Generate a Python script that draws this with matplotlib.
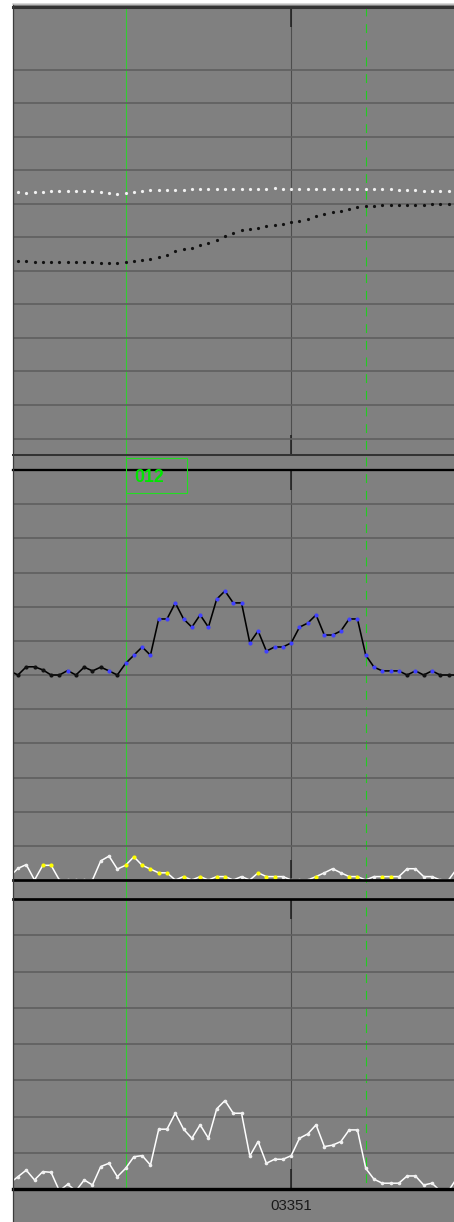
import numpy as np
import matplotlib
matplotlib.use("Agg")
import matplotlib.pyplot as plt
from matplotlib.patches import Rectangle
from matplotlib.lines import Line2D
from matplotlib import transforms

# ---------------------------------------------------------------- data
# upper panel: two dotted traces, samples 0..52
upper_light = [73.6, 73.3, 73.4, 73.6, 73.8, 73.8, 73.8, 73.8, 73.8, 73.8,
               73.6, 73.2, 73.0, 73.3, 73.6, 73.9, 74.0, 74.1, 74.2, 74.2,
               74.2, 74.3, 74.3, 74.3, 74.3, 74.3, 74.3, 74.3, 74.3, 74.4,
               74.5, 74.6, 74.5, 74.5, 74.5, 74.5, 74.5, 74.4, 74.3, 74.3,
               74.3, 74.3, 74.3, 74.3, 74.3, 74.3, 74.2, 74.1, 74.0, 73.9,
               73.8, 73.8, 73.9]
upper_dark = [52.9, 52.8, 52.7, 52.7, 52.7, 52.7, 52.7, 52.6, 52.6, 52.5,
              52.4, 52.4, 52.4, 52.7, 53.0, 53.3, 53.5, 54.1, 54.8, 55.8,
              56.4, 56.9, 57.7, 58.4, 59.2, 60.3, 61.3, 62.1, 62.5, 62.9,
              63.3, 63.6, 64.0, 64.5, 65.0, 65.6, 66.3, 66.9, 67.4, 67.8,
              68.5, 69.1, 69.4, 69.4, 69.5, 69.6, 69.6, 69.6, 69.7, 69.7,
              69.8, 69.8, 69.8]

# middle / lower panels: samples -1..53
main_trace = [61.2,
              60.0, 62.4, 62.4, 61.5, 60.0, 60.0, 61.3, 60.0, 62.3, 61.2,
              62.3, 61.2, 60.0, 63.4, 65.8, 68.2, 65.8, 76.4, 76.4, 81.1,
              76.4, 74.0, 77.6, 74.0, 82.2, 84.6, 81.1, 81.1, 69.4, 72.9,
              67.0, 68.2, 68.2, 69.4, 74.0, 75.2, 77.6, 71.7, 71.7, 72.9,
              76.4, 76.4, 65.8, 62.3, 61.2, 61.2, 61.2, 60.0, 61.2, 60.0,
              61.2, 60.0, 60.0, 60.0]
main_flag = [0,
             0, 0, 0, 0, 0, 0, 1, 0, 0, 0,
             0, 1, 0, 1, 1, 1, 1, 1, 1, 1,
             1, 1, 1, 1, 1, 1, 1, 1, 1, 1,
             1, 1, 1, 1, 1, 1, 1, 1, 1, 1,
             1, 1, 1, 1, 1, 1, 1, 0, 1, 0,
             1, 0, 0, 0]
low_trace = [1.0,
             3.4, 4.5, 0.0, 4.3, 4.3, 0.0, 0.0, 0.0, 0.0, 0.0,
             5.6, 7.0, 3.2, 4.3, 6.8, 4.3, 3.2, 2.1, 2.1, 0.0,
             1.0, 0.0, 1.0, 0.0, 1.0, 1.0, 0.0, 1.0, 0.0, 2.1,
             1.0, 1.0, 1.0, 0.0, 0.0, 0.0, 1.0, 2.1, 3.3, 2.1,
             1.0, 1.0, 0.0, 1.0, 1.0, 1.0, 1.0, 3.3, 3.3, 1.0,
             1.0, 0.0, 0.0, 3.3]
low_flag = [0,
            0, 0, 0, 1, 1, 0, 0, 0, 0, 0,
            0, 0, 0, 1, 1, 1, 1, 1, 1, 0,
            1, 0, 1, 0, 1, 1, 0, 0, 0, 1,
            1, 1, 0, 0, 0, 0, 1, 0, 0, 0,
            1, 1, 0, 0, 1, 1, 0, 0, 0, 0,
            0, 0, 0, 0]
bottom_trace = [1.6,
                3.4, 5.2, 2.5, 4.8, 4.6, -0.5, 1.3, -0.5, 2.5, 1.1,
                6.2, 7.1, 3.4, 5.7, 8.9, 9.2, 6.6, 16.5, 16.5, 20.9,
                16.5, 14.0, 17.7, 14.0, 22.1, 24.4, 20.9, 20.9, 9.1, 13.1,
                7.1, 8.2, 8.2, 9.2, 14.0, 15.2, 17.7, 11.7, 12.1, 13.1,
                16.3, 16.3, 5.7, 2.7, 1.6, 1.6, 1.6, 3.6, 3.6, 1.1,
                1.6, -0.5, -0.5, 3.0]

cursor_solid = 13
cursor_dashed = 42
tick_pos = 33
tick_label = "03351"
box_label = "012"

# ---------------------------------------------------------------- layout
W, H, DPI = 454, 1222, 100
fig = plt.figure(figsize=(W / DPI, H / DPI), dpi=DPI)
fig.patch.set_facecolor("white")

LEFT = 12.5
GRAY = "#808080"


def fx(px):
    return px / W


def fy(py):
    return 1 - py / H


fig.add_artist(Rectangle((fx(LEFT), 0), 1 - fx(LEFT), fy(3.5),
                         transform=fig.transFigure, facecolor=GRAY,
                         edgecolor="none", zorder=-3))
fig.add_artist(Line2D([fx(LEFT), fx(LEFT)], [0, fy(3.5)], color="#3c3c3c",
                      lw=0.9, transform=fig.transFigure, zorder=4))
fig.add_artist(Line2D([fx(LEFT), 1], [fy(4.0), fy(4.0)], color="#cfcfcf",
                      lw=1.1, transform=fig.transFigure, zorder=4))

x_up = np.arange(0, len(upper_light))
x_lo = np.arange(-1, len(main_trace) - 1)
XLIM = (-0.66, 52.66)


def make_panel(top, bottom, ylim, yticks, top_spine, bottom_spine):
    ax = fig.add_axes([fx(LEFT), fy(bottom), 1 - fx(LEFT), (bottom - top) / H])
    ax.set_facecolor("none")
    ax.set_xlim(*XLIM)
    ax.set_ylim(*ylim)
    ax.set_yticks(yticks)
    ax.set_xticks([tick_pos])
    ax.set_xticklabels([])
    ax.set_yticklabels([])
    for s in ("left", "right"):
        ax.spines[s].set_visible(False)
    ax.spines["top"].set_color(top_spine[0])
    ax.spines["top"].set_linewidth(top_spine[1])
    ax.spines["bottom"].set_color(bottom_spine[0])
    ax.spines["bottom"].set_linewidth(bottom_spine[1])
    ax.tick_params(axis="y", length=0)
    ax.tick_params(axis="x", direction="in", top=True, bottom=True,
                   length=14.4, width=1.1, color="#1e1e1e")
    ax.grid(axis="y", color="#5f5f5f", lw=1.2)
    ax.grid(axis="x", color="#4d4d4d", lw=0.8)
    ax.set_axisbelow(True)
    return ax


ax1 = make_panel(6.5, 455, (-4.9, 128.8), np.arange(0, 111, 10),
                 ("#333333", 2.2), ("#333333", 1.45))
ax2 = make_panel(470, 880, (0, 120), np.arange(10, 111, 10),
                 ("#000000", 1.65), ("#000000", 1.95))
ax3 = make_panel(899, 1189, (0, 80), np.arange(10, 71, 10),
                 ("#000000", 1.95), ("#000000", 2.4))

# upper panel dotted traces
ax1.plot(x_up, upper_light, "o", ms=2.3, color="#f2f2f2", mec="none")
ax1.plot(x_up, upper_dark, "o", ms=2.3, color="#111111", mec="none")

# middle panel main trace
main = np.array(main_trace)
mflag = np.array(main_flag, dtype=bool)
ax2.plot(x_lo, main, color="#000000", lw=1.15, zorder=3)
ax2.plot(x_lo[~mflag], main[~mflag], "o", ms=3.0, color="#111111",
         mec="none", zorder=4)
ax2.plot(x_lo[mflag], main[mflag], "o", ms=3.0, color="#4040ff",
         mec="none", zorder=4)

# middle panel low trace
low = np.array(low_trace)
lflag = np.array(low_flag, dtype=bool)
ax2.plot(x_lo, low, color="#ffffff", lw=1.1, zorder=2)
ax2.plot(x_lo[~lflag], low[~lflag], "o", ms=2.6, color="#f0f0f0",
         mec="none", zorder=2.1)
ax2.plot(x_lo[lflag], low[lflag], "o", ms=3.0, color="#ffff00",
         mec="none", zorder=2.2)

# lower panel trace
ax3.plot(x_lo, bottom_trace, color="#ffffff", lw=1.1, zorder=2)
ax3.plot(x_lo, bottom_trace, "o", ms=2.6, color="#f0f0f0", mec="none",
         zorder=2.1)

ax3.set_xticklabels([tick_label])
ax3.tick_params(axis="x", labelbottom=True, pad=7, labelsize=10.8,
                labelcolor="#1a1a1a")
for lab in ax3.get_xticklabels():
    lab.set_fontfamily("Liberation Sans")

# cursors spanning all panels
blend = transforms.blended_transform_factory(ax3.transData, fig.transFigure)
fig.add_artist(Line2D([cursor_solid, cursor_solid], [fy(7), fy(1189)],
                      transform=blend, color="#33cc33", lw=0.8, zorder=-1))
fig.add_artist(Line2D([cursor_dashed, cursor_dashed], [fy(7), fy(1189)],
                      transform=blend, color="#22cc22", lw=0.8,
                      linestyle=(0, (8, 7)), zorder=-1))

# label box at the solid cursor
ax2.add_patch(Rectangle((cursor_solid, 113.2), 7.4, 10.4, fill=False,
                        edgecolor="#22dd22", lw=0.8, clip_on=False, zorder=5))
ax2.text(cursor_solid + 1.05, 116.6, box_label, ha="left", va="baseline",
         color="#00e600", fontsize=12.8, fontweight="bold",
         family="Liberation Sans", clip_on=False, zorder=5)

fig.savefig("out.png", dpi=DPI)
